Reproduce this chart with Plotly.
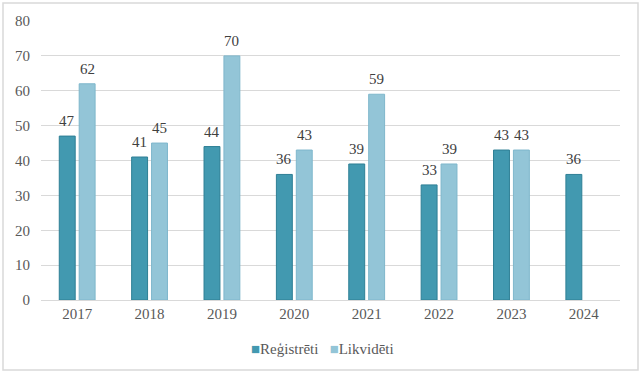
import plotly.graph_objects as go

years = ["2017", "2018", "2019", "2020", "2021", "2022", "2023", "2024"]
registreti = [47, 41, 44, 36, 39, 33, 43, 36]
likvideti = [62, 45, 70, 43, 59, 39, 43, None]
series_names = ["Reģistrēti", "Likvidēti"]
colors = ["#4299B0", "#93C5D7"]

font_family = "Liberation Serif"
text_color = "#404040"

fig = go.Figure()
fig.add_trace(go.Bar(
    x=years, y=registreti, name=series_names[0],
    marker=dict(color=colors[0], line=dict(color="#2E7F95", width=1)),
))
fig.add_trace(go.Bar(
    x=years, y=likvideti, name=series_names[1],
    marker=dict(color=colors[1], line=dict(color="#7FB7CC", width=1)),
))

L, R, T, B = 41, 23, 21, 76
W, H = 643, 376
pw, ph = W - L - R, H - T - B

def px_to_paper_x(px):
    return (px - L) / pw

def px_to_paper_y(py):
    return (H - B - py) / ph

# value labels as annotations (positioned on the data scale)
bar_offset = 0.1375  # half distance between the two bar centres, in category units
annotations = []
for i, yr in enumerate(years):
    for vals, sign in ((registreti, -1), (likvideti, 1)):
        v = vals[i]
        if v is None:
            continue
        annotations.append(dict(
            x=i + sign * bar_offset, y=v, xref="x", yref="y", text=str(v), showarrow=False,
            xanchor="center", yanchor="bottom", yshift=5,
            font=dict(family=font_family, size=15, color=text_color)))

legend_text = (f"<span style='color:{colors[0]}'>■</span>{series_names[0]}"
               f"   <span style='color:{colors[1]}'>■</span>{series_names[1]}")
annotations.append(dict(text=legend_text, xref="paper", yref="paper",
                        x=px_to_paper_x(322), y=px_to_paper_y(349),
                        xanchor="center", yanchor="middle", showarrow=False,
                        font=dict(family=font_family, size=15, color="#595959")))

fig.update_layout(
    width=W, height=H,
    margin=dict(l=L, r=R, t=T, b=B),
    paper_bgcolor="white", plot_bgcolor="white",
    barmode="group", bargap=0.45, bargroupgap=0.2,
    font=dict(family=font_family, size=14, color="#595959"),
    showlegend=False,
    xaxis=dict(type="category", showgrid=False, showline=True, linecolor="#d9d9d9", linewidth=1,
               ticks="", tickfont=dict(size=15, color="#595959")),
    yaxis=dict(range=[0, 80], dtick=10, showgrid=True, gridcolor="#d9d9d9",
               gridwidth=1, zeroline=False, ticks="", ticklabelstandoff=10,
               tickfont=dict(size=15, color="#595959")),
    annotations=annotations,
    shapes=[dict(type="rect", xref="paper", yref="paper",
                 x0=px_to_paper_x(3), x1=px_to_paper_x(638),
                 y0=px_to_paper_y(370), y1=px_to_paper_y(3),
                 line=dict(color="#d9d9d9", width=1.5), fillcolor="rgba(0,0,0,0)",
                 layer="below")],
)

fig.write_html("out.html", config={"displayModeBar": False},
               post_script="document.body.style.margin='0';")
